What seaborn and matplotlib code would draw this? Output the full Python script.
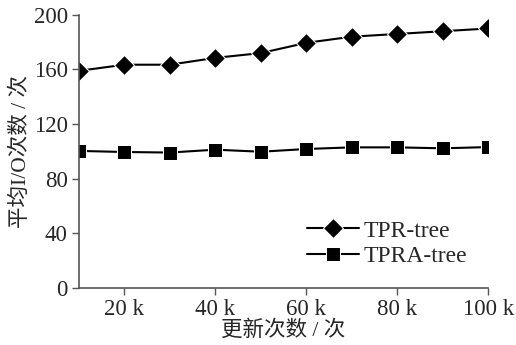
import numpy as np
import pandas as pd
import matplotlib
matplotlib.use('Agg')
import matplotlib.pyplot as plt
import seaborn as sns

# data
updates = [10, 20, 30, 40, 50, 60, 70, 80, 90, 100]
tpr_tree = [159, 163.5, 163.5, 168.5, 172, 179.5, 184, 186, 188, 190]
tpra_tree = [100.4, 99.6, 99.2, 101.3, 99.8, 101.8, 103, 103, 102.3, 103.2]
xticks = [20, 40, 60, 80, 100]
xtick_labels = ['20 k', '40 k', '60 k', '80 k', '100 k']

df = pd.DataFrame({
    'x': updates * 2,
    'y': tpr_tree + tpra_tree,
    'series': ['TPR-tree'] * len(updates) + ['TPRA-tree'] * len(updates),
})

sns.set_style('white')
plt.rcParams['font.family'] = ['Liberation Serif', 'Noto Sans CJK SC']
plt.rcParams['font.size'] = 16

fig = plt.figure(figsize=(5.16, 3.45), dpi=100)
ax = fig.add_axes([0.153, 0.165, 0.793, 0.792])

sns.lineplot(data=df, x='x', y='y', hue='series', style='series',
             markers={'TPR-tree': 'D', 'TPRA-tree': 's'}, dashes=False,
             palette={'TPR-tree': 'black', 'TPRA-tree': 'black'},
             markersize=10, linewidth=1.5, ax=ax)

ax.set_xlim(10, 100)
ax.set_ylim(0, 200)
ax.set_xticks(xticks)
ax.set_xticklabels(xtick_labels)
ax.set_yticks([0, 40, 80, 120, 160, 200])
ax.tick_params(axis='both', direction='out', length=5, width=1, color='#555555',
               labelsize=16.5, pad=3, bottom=True, left=True)
for s in ['top', 'right']:
    ax.spines[s].set_visible(False)
for s in ['left', 'bottom']:
    ax.spines[s].set_color('#555555')
    ax.spines[s].set_linewidth(1.2)

ax.set_xlabel('更新次数 / 次', fontsize=15.5, labelpad=0)
ax.set_ylabel('平均I/O次数 / 次', fontsize=15.5, labelpad=2)

leg = ax.legend(loc='lower right', bbox_to_anchor=(1.0, 0.0), frameon=False,
                fontsize=17, handlelength=2.2, labelspacing=0.15, handletextpad=0.2,
                title=None)

fig.savefig('out.png', dpi=100)
